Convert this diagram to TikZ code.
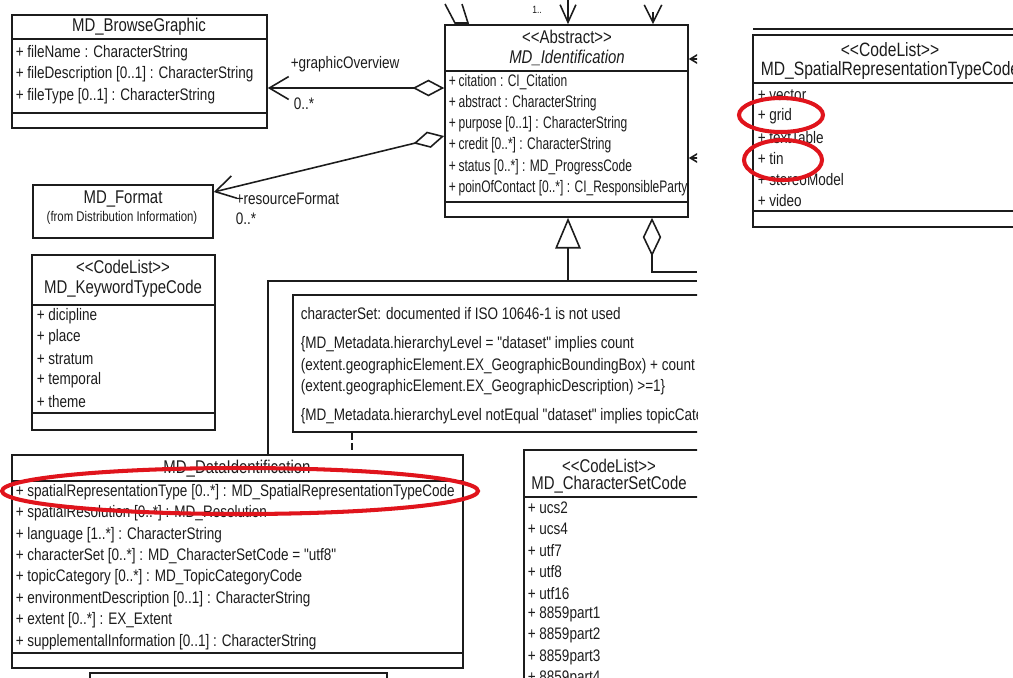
\documentclass[tikz,border=0pt]{standalone}
\usepackage{fontspec}
\setmainfont{Liberation Sans}[FakeStretch=0.81,Ligatures=TeXOff]
\newfontfamily\narrowfont{Liberation Sans}[FakeStretch=0.72,Ligatures=TeXOff]
\usepackage{xcolor}
\definecolor{ink}{HTML}{1C1C1C}
\definecolor{marker}{HTML}{E0141C}
\usetikzlibrary{arrows.meta,fit,positioning}

\begin{document}
\begin{tikzpicture}[x=0.02cm,y=-0.02cm,line width=0.9pt,draw=ink,text=ink,
  box/.style={draw,inner sep=0pt},
  item/.style={anchor=west,inner sep=0pt,font=\fontsize{9.5}{11}\selectfont},
  cname/.style={inner sep=0pt,font=\fontsize{10.5}{12}\selectfont},
  barb/.style={-{Straight Barb[length=11pt,width=13pt]}},
  aggbarb/.style={{Diamond[open,length=18pt,width=9.5pt]}-{Straight Barb[length=11pt,width=13pt]}},
  agg/.style={{Diamond[open,length=22pt,width=10.5pt]}-},
  gen/.style={-{Triangle[open,length=17.5pt,width=14.5pt]}},
  ring/.style={draw=marker,line width=2.3pt}]
  \useasboundingbox (0,0) rectangle (1013,677);
  \clip (0,0) rectangle (1013,677);

  % left sheet, cut off at its right edge
  \begin{scope}
  \clip (0,0) rectangle (697,677);
  % classes
  \node[box,fit={(12,15) (267,128)}] (BG) {};
  \node[box,fit={(445,25) (688,217)}] (MI) {};
  \node[box,fit={(33,185) (213,238)}] (MF) {};
  \node[box,fit={(32,255) (215,430)}] (KT) {};
  \node[box,fit={(293,295) (720,432)}] (note) {};
  \node[box,fit={(12,455) (463,668)}] (DI) {};
  \node[box,fit={(524,450) (720,720)}] (CS) {};
  \node[box,fit={(90,673) (387,720)}] (DS) {};
  \foreach \n/\y in {BG/39,BG/113,MI/71,MI/202,KT/305,KT/413,DI/481,DI/653,CS/497}
    \draw (\n.west|-0,\y) -- (\n.east|-0,\y);

  % MD_BrowseGraphic
  \node[cname] (BG-t) at (139,27) {MD\_BrowseGraphic};
  \foreach \t [count=\i] in {+ fileName : CharacterString,
      + fileDescription [0..1] : CharacterString, + fileType [0..1] : CharacterString}
    \node[item] (BG-\i) at (15,{53+(\i-1)*21.5}) {\t};

  % MD_Identification
  \node[cname] (MI-s) at (567,37) {<<Abstract>>};
  \node[cname,font=\fontsize{10.5}{12}\selectfont\itshape] (MI-t) at (567,58) {MD\_Identification};
  \foreach \t [count=\i] in {citation : CI\_Citation, abstract : CharacterString,
      purpose [0..1] : CharacterString, credit [0..*] : CharacterString,
      status [0..*] : MD\_ProgressCode, poinOfContact [0..*] : CI\_ResponsibleParty}
    \node[item,font=\narrowfont\fontsize{9.5}{11}\selectfont] (MI-\i) at (448,{82+(\i-1)*21.2}) {+\,\t};

  % MD_Format
  \node[cname] (MF-t) at (123,199) {MD\_Format};
  \node[inner sep=0pt,font=\fontsize{8}{9}\selectfont] (MF-s) at (122,218) {(from Distribution Information)};

  % MD_KeywordTypeCode
  \node[cname] (KT-s) at (123,267) {<<CodeList>>};
  \node[cname] (KT-t) at (123,289) {MD\_KeywordTypeCode};
  \foreach \t [count=\i] in {dicipline,place,stratum,temporal,theme}
    \node[item] (KT-\i) at (36,{316+(\i-1)*21.5}) {+ \t};

  % constraints
  \node[item] (note-1) at (300,314) {characterSet: documented if ISO 10646-1 is not used};
  \node[item] (note-2) at (300,344) {\{MD\_Metadata.hierarchyLevel = "dataset" implies count};
  \node[item] (note-3) at (300,366) {(extent.geographicElement.EX\_GeographicBoundingBox) + count};
  \node[item] (note-4) at (300,387) {(extent.geographicElement.EX\_GeographicDescription) >=1\}};
  \node[item] (note-5) at (300,416) {\{MD\_Metadata.hierarchyLevel notEqual "dataset" implies topicCategory};

  % MD_DataIdentification
  \node[cname] (DI-t) at (237,469) {MD\_DataIdentification};
  \foreach \t [count=\i] in {+ spatialRepresentationType [0..*] : MD\_SpatialRepresentationTypeCode,
      + spatialResolution [0..*] : MD\_Resolution, + language [1..*] : CharacterString,
      + characterSet [0..*] : MD\_CharacterSetCode = "utf8",
      + topicCategory [0..*] : MD\_TopicCategoryCode,
      + environmentDescription [0..1] : CharacterString, + extent [0..*] : EX\_Extent,
      + supplementalInformation [0..1] : CharacterString}
    \node[item] (DI-\i) at (15,{492+(\i-1)*21.4}) {\t};

  % MD_CharacterSetCode
  \node[cname] (CS-s) at (609,466) {<<CodeList>>};
  \node[cname] (CS-t) at (609,485) {MD\_CharacterSetCode};
  \foreach \t [count=\i] in {ucs2,ucs4,utf7,utf8,utf16,8859part1,8859part2,8859part3,8859part4}
    \node[item] (CS-\i) at (527,{508+(\i-1)*21.3}) {+ \t};

  % associations
  \draw[aggbarb] (MI.west|-0,88) -- (BG.east|-0,88);
  \node[item] (go-r) at (290,64) {+graphicOverview};
  \node[item] (go-m) at (293,104) {0..*};
  \draw[aggbarb] (MI.west|-0,136) -- (MF.east|-0,192);
  \node[item] (rf-r) at (235,199) {+resourceFormat};
  \node[item] (rf-m) at (235,219) {0..*};

  % ends coming in from outside the cut
  \draw (445,4) -- (455,23) -- (468,23) -- (462,4);
  \node[inner sep=0pt,font=\fontsize{6}{7}\selectfont] (up-m) at (537,10) {1..};
  \coordinate (up1) at (568,0);
  \coordinate (up2) at (653,12);
  \draw[-{Straight Barb[length=10pt,width=9pt]}] (up1) -- (MI.north-|up1);
  \draw[-{Straight Barb[length=10pt,width=10pt]}] (up2) -- (MI.north-|up2);
  \foreach \y in {59,158} {
    \coordinate (rt\y) at (700,\y);
    \draw[-{Straight Barb[length=5pt,width=6pt]}] (rt\y) -- (MI.east|-rt\y);
  }
  \coordinate (gj) at (568,281);
  \draw[gen] (gj) -- (MI.south-|gj);
  \draw (DI.north-|268,0) -- (268,281) -- (697,281);
  \draw[agg] (MI.south-|652,0) -- (652,272) -- (697,272);
  \draw[dash pattern=on 4pt off 2pt] (note.south-|352,0) -- (DI.north-|352,0);
  \end{scope}

  % MD_SpatialRepresentationTypeCode
  \draw (753,29) -- (1013,29);
  \node[box,fit={(753,35) (1027,227)}] (SR) {};
  \foreach \y in {83,211} \draw (SR.west|-0,\y) -- (SR.east|-0,\y);
  \node[cname,font=\fontsize{11}{13}\selectfont] (SR-s) at (890,50) {<<CodeList>>};
  \node[cname,font=\fontsize{11}{13}\selectfont] (SR-t) at (890,70) {MD\_SpatialRepresentationTypeCode};
  \foreach \t [count=\i] in {vector,grid,textTable,tin,stereoModel,video}
    \node[item] (SR-\i) at (757,{95+(\i-1)*21.2}) {+ \t};

  % red marks
  \draw[ring] (781,115) ellipse [x radius=42,y radius=17];
  \draw[ring] (783,160) ellipse [x radius=39,y radius=20];
  \draw[ring] (240,491) ellipse [x radius=238,y radius=23];
\end{tikzpicture}
\end{document}
